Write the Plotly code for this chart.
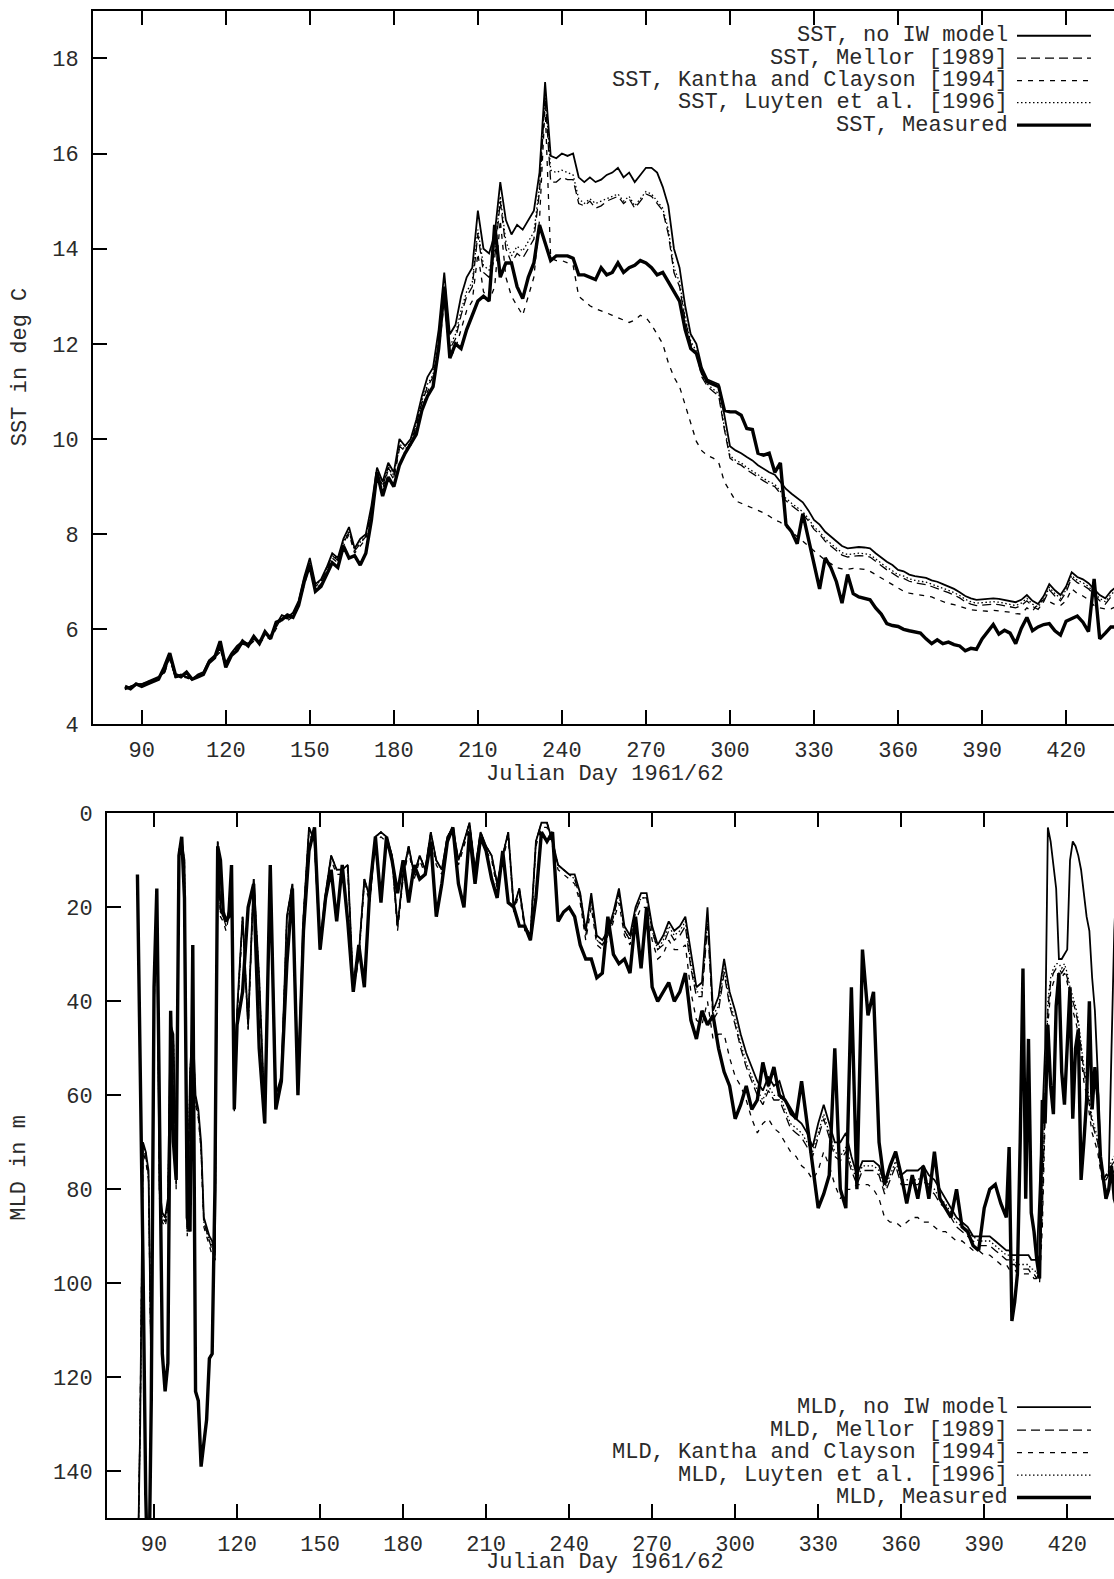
import plotly.graph_objects as go

# ---------------------------------------------------------------- data
# Julian day sampling for the SST series (every second day)
SST_DAY = list(range(84, 439, 2))

SST_NO_IW = [
    4.75, 4.80, 4.85, 4.85, 4.90, 4.95, 5.00, 5.10, 5.45, 5.00,
    5.05, 5.00, 4.95, 5.05, 5.10, 5.35, 5.45, 5.60, 5.30, 5.50,
    5.65, 5.75, 5.70, 5.80, 5.75, 5.90, 5.85, 6.10, 6.30, 6.25,
    6.35, 6.60, 7.10, 7.50, 6.95, 7.05, 7.30, 7.60, 7.50, 7.90,
    8.15, 7.70, 7.90, 8.00, 8.60, 9.40, 9.10, 9.50, 9.30, 10.00,
    9.85, 10.00, 10.40, 10.90, 11.30, 11.50, 12.30, 13.50, 12.20, 12.40,
    13.00, 13.40, 13.60, 14.80, 14.00, 13.90, 14.30, 15.40, 14.60, 14.30,
    14.50, 14.40, 14.60, 14.80, 15.60, 17.50, 15.95, 15.90, 16.00, 15.95,
    16.00, 15.50, 15.40, 15.50, 15.40, 15.45, 15.55, 15.60, 15.70, 15.50,
    15.60, 15.40, 15.55, 15.70, 15.70, 15.60, 15.30, 14.90, 14.00, 13.60,
    12.80, 12.20, 12.00, 11.50, 11.25, 11.20, 11.15, 10.50, 9.85, 9.76,
    9.70, 9.62, 9.55, 9.45, 9.38, 9.30, 9.25, 9.10, 8.95, 8.85,
    8.75, 8.67, 8.50, 8.30, 8.20, 8.05, 7.95, 7.85, 7.75, 7.70,
    7.72, 7.73, 7.72, 7.70, 7.60, 7.50, 7.42, 7.35, 7.25, 7.22,
    7.15, 7.12, 7.10, 7.08, 7.03, 7.00, 6.95, 6.90, 6.85, 6.78,
    6.70, 6.65, 6.62, 6.63, 6.64, 6.65, 6.64, 6.62, 6.60, 6.57,
    6.62, 6.72, 6.60, 6.53, 6.70, 6.95, 6.82, 6.72, 6.90, 7.20,
    7.10, 7.05, 6.97, 6.85, 6.72, 6.65, 6.80, 6.90,
]

SST_MELLOR = [
    4.75, 4.80, 4.83, 4.85, 4.88, 4.93, 4.98, 5.08, 5.40, 5.00,
    5.03, 5.00, 4.95, 5.03, 5.08, 5.30, 5.42, 5.55, 5.28, 5.47,
    5.62, 5.72, 5.68, 5.78, 5.73, 5.87, 5.83, 6.05, 6.25, 6.22,
    6.30, 6.55, 7.00, 7.40, 6.90, 7.00, 7.25, 7.55, 7.45, 7.80,
    8.05, 7.65, 7.80, 7.95, 8.50, 9.25, 9.00, 9.40, 9.20, 9.85,
    9.75, 9.90, 10.30, 10.75, 11.10, 11.30, 12.00, 13.10, 11.90, 12.10,
    12.60, 13.00, 13.20, 14.30, 13.50, 13.40, 13.80, 15.00, 14.00, 13.70,
    13.90, 13.80, 14.00, 14.20, 15.20, 17.20, 15.40, 15.40, 15.50, 15.45,
    15.45, 14.95, 14.90, 15.00, 14.85, 14.90, 15.00, 15.05, 15.10, 14.95,
    15.05, 14.85, 15.00, 15.15, 15.10, 14.95, 14.80, 14.30, 13.50, 13.20,
    12.50, 12.00, 11.80, 11.30, 11.10, 11.00, 10.90, 10.20, 9.60, 9.50,
    9.45, 9.35, 9.28, 9.20, 9.12, 9.05, 9.00, 8.85, 8.70, 8.60,
    8.50, 8.42, 8.28, 8.10, 8.00, 7.85, 7.75, 7.65, 7.56, 7.52,
    7.54, 7.55, 7.54, 7.52, 7.43, 7.33, 7.25, 7.18, 7.10, 7.07,
    7.01, 6.98, 6.96, 6.94, 6.90, 6.86, 6.82, 6.77, 6.72, 6.66,
    6.58, 6.53, 6.50, 6.51, 6.52, 6.53, 6.52, 6.50, 6.48, 6.45,
    6.50, 6.60, 6.48, 6.42, 6.58, 6.83, 6.70, 6.60, 6.78, 7.08,
    6.98, 6.93, 6.85, 6.73, 6.60, 6.53, 6.68, 6.78,
]

SST_KANTHA = [
    4.73, 4.78, 4.82, 4.83, 4.87, 4.92, 4.97, 5.06, 5.38, 4.98,
    5.01, 4.98, 4.93, 5.01, 5.06, 5.28, 5.40, 5.52, 5.25, 5.44,
    5.59, 5.69, 5.65, 5.75, 5.70, 5.84, 5.80, 6.02, 6.22, 6.18,
    6.27, 6.50, 6.95, 7.35, 6.85, 6.95, 7.20, 7.50, 7.40, 7.75,
    8.00, 7.60, 7.75, 7.90, 8.45, 9.20, 8.95, 9.35, 9.15, 9.80,
    9.70, 9.85, 10.25, 10.65, 11.00, 11.20, 11.80, 12.90, 11.70, 11.90,
    12.30, 12.70, 12.90, 13.90, 13.10, 12.90, 13.20, 14.60, 13.40, 13.00,
    12.80, 12.60, 13.00, 13.40, 14.60, 17.00, 13.80, 13.75, 13.75, 13.70,
    13.65, 13.00, 12.90, 12.80, 12.74, 12.70, 12.65, 12.60, 12.55, 12.50,
    12.45, 12.50, 12.60, 12.55, 12.40, 12.20, 12.00, 11.60, 11.30, 11.10,
    10.70, 10.30, 9.95, 9.75, 9.65, 9.60, 9.50, 9.10, 8.90, 8.70,
    8.65, 8.60, 8.55, 8.50, 8.45, 8.38, 8.30, 8.25, 8.15, 8.05,
    7.95, 7.85, 7.75, 7.65, 7.55, 7.45, 7.38, 7.30, 7.27, 7.26,
    7.28, 7.27, 7.26, 7.22, 7.15, 7.08, 7.00, 6.93, 6.86, 6.80,
    6.76, 6.74, 6.72, 6.70, 6.68, 6.63, 6.58, 6.54, 6.52, 6.48,
    6.44, 6.41, 6.40, 6.39, 6.38, 6.40, 6.39, 6.38, 6.36, 6.33,
    6.32, 6.45, 6.38, 6.55, 6.62, 6.58, 6.52, 6.50, 6.60, 6.85,
    6.75, 6.70, 6.62, 6.50, 6.45, 6.43, 6.43, 6.48,
]

SST_LUYTEN = [
    4.75, 4.80, 4.84, 4.85, 4.89, 4.94, 4.99, 5.09, 5.42, 5.00,
    5.04, 5.00, 4.95, 5.04, 5.09, 5.32, 5.43, 5.57, 5.29, 5.48,
    5.63, 5.73, 5.69, 5.79, 5.74, 5.88, 5.84, 6.07, 6.27, 6.23,
    6.32, 6.57, 7.03, 7.43, 6.92, 7.02, 7.27, 7.57, 7.47, 7.83,
    8.08, 7.67, 7.83, 7.97, 8.53, 9.30, 9.03, 9.43, 9.23, 9.90,
    9.78, 9.93, 10.33, 10.80, 11.15, 11.35, 12.05, 13.20, 11.95, 12.20,
    12.70, 13.10, 13.30, 14.40, 13.65, 13.55, 13.95, 15.10, 14.15, 13.85,
    14.05, 13.95, 14.15, 14.35, 15.30, 17.30, 15.65, 15.60, 15.65, 15.60,
    15.55, 15.05, 14.95, 15.05, 14.95, 15.00, 15.05, 15.10, 15.15, 15.00,
    15.10, 14.90, 15.05, 15.20, 15.15, 15.00, 14.85, 14.40, 13.60, 13.30,
    12.55, 12.05, 11.85, 11.35, 11.15, 11.05, 10.95, 10.25, 9.65, 9.55,
    9.50, 9.40, 9.33, 9.25, 9.17, 9.10, 9.05, 8.90, 8.75, 8.65,
    8.55, 8.47, 8.33, 8.15, 8.05, 7.90, 7.80, 7.70, 7.61, 7.57,
    7.59, 7.60, 7.59, 7.57, 7.48, 7.38, 7.30, 7.23, 7.15, 7.12,
    7.06, 7.03, 7.01, 6.99, 6.95, 6.91, 6.87, 6.82, 6.77, 6.71,
    6.63, 6.58, 6.55, 6.56, 6.57, 6.58, 6.57, 6.55, 6.53, 6.50,
    6.55, 6.65, 6.53, 6.47, 6.63, 6.88, 6.75, 6.65, 6.83, 7.13,
    7.03, 6.98, 6.90, 6.78, 6.65, 6.58, 6.73, 6.83,
]

SST_MEASURED = [
    4.80, 4.75, 4.85, 4.80, 4.85, 4.90, 4.95, 5.20, 5.50, 5.05,
    5.00, 5.10, 4.95, 5.00, 5.05, 5.30, 5.40, 5.75, 5.20, 5.45,
    5.55, 5.75, 5.65, 5.85, 5.70, 5.95, 5.80, 6.15, 6.20, 6.30,
    6.25, 6.50, 7.00, 7.35, 6.80, 6.90, 7.15, 7.40, 7.30, 7.75,
    7.50, 7.55, 7.35, 7.60, 8.30, 9.30, 8.80, 9.20, 9.00, 9.45,
    9.70, 9.90, 10.10, 10.60, 10.90, 11.10, 11.90, 13.20, 11.70, 12.00,
    11.90, 12.30, 12.60, 12.90, 13.00, 12.90, 14.50, 13.40, 13.70, 13.70,
    13.20, 12.95, 13.40, 13.70, 14.50, 14.10, 13.75, 13.85, 13.85, 13.85,
    13.80, 13.45, 13.45, 13.40, 13.35, 13.60, 13.45, 13.50, 13.70, 13.50,
    13.60, 13.65, 13.75, 13.70, 13.60, 13.45, 13.50, 13.30, 13.10, 12.90,
    12.30, 11.90, 11.80, 11.40, 11.20, 11.15, 11.10, 10.60, 10.57, 10.57,
    10.50, 10.22, 10.20, 9.70, 9.66, 9.70, 9.30, 9.50, 8.20, 8.05,
    7.80, 8.43, 7.90, 7.45, 6.85, 7.50, 7.30, 7.00, 6.55, 7.15,
    6.75, 6.68, 6.65, 6.62, 6.45, 6.32, 6.12, 6.08, 6.06, 6.00,
    5.97, 5.95, 5.92, 5.80, 5.70, 5.78, 5.70, 5.73, 5.68, 5.65,
    5.55, 5.60, 5.58, 5.80, 5.95, 6.10, 5.90, 5.98, 5.92, 5.70,
    6.02, 6.25, 5.97, 6.05, 6.10, 6.12, 5.97, 5.88, 6.17, 6.22,
    6.28, 6.15, 5.95, 7.06, 5.80, 5.92, 6.05, 6.05,
]

# Julian day sampling for the MLD series: daily where the record is most
# irregular, every second day in between
MLD_DAY = list(range(84, 121)) + list(range(122, 398, 2)) + list(range(398, 439))

MLD_NO_IW = [
    165, 130, 70, 72, 76, 120, 40, 17, 80, 85, 86, 82, 45, 47, 78, 8, 6, 10, 88,
    55, 45, 60, 63, 70, 86, 88, 90, 91, 94, 6, 20, 22, 23, 21, 13, 62, 42,
    22, 45, 14, 35, 64, 12, 60, 56, 22, 15,
    58, 22, 3, 6, 28, 17, 9, 12, 12, 11,
    37, 30, 14, 18, 5, 4, 5, 9, 24, 13,
    7, 13, 9, 12, 4, 10, 12, 5, 3, 10,
    6, 2, 12, 4, 7, 9, 15, 9, 4, 20,
    16, 24, 26, 6, 2, 2, 6, 11, 12, 13,
    13, 17, 25, 17, 26, 27, 25, 21, 16, 24,
    26, 20, 17, 17, 24, 28, 26, 23, 25, 24,
    22, 30, 37, 36, 20, 42, 39, 31, 38, 42,
    47, 51, 54, 57, 59, 56, 58, 57, 61, 64,
    65, 66, 68, 71, 66, 62, 66, 70, 70, 68,
    73, 77, 74, 74, 74, 75, 79, 75, 72, 77,
    76, 76, 76, 75, 77, 78, 80, 82, 84, 86,
    87, 88, 90, 90, 90, 90, 91, 92,
    93, 93, 94, 94, 94, 94, 94, 94, 94, 95,
    95, 95, 80, 65, 50, 3, 6, 11, 16, 31,
    31, 30, 29, 10, 6, 7, 9, 12, 17, 22,
    25, 35, 42, 55, 74, 78, 77, 77, 50, 25,
    12,
]

MLD_MELLOR = [
    165, 128, 71, 73, 77, 120, 41, 17, 81, 86, 87, 84, 46, 48, 79, 8, 6, 11, 89,
    56, 46, 61, 64, 71, 87, 89, 91, 93, 95, 6, 21, 22, 24, 21, 14, 63, 43,
    22, 46, 14, 36, 65, 12, 61, 57, 22, 15,
    59, 22, 3, 6, 29, 17, 9, 12, 12, 11,
    38, 30, 14, 18, 5, 4, 5, 9, 24, 13,
    7, 13, 9, 12, 4, 10, 12, 5, 3, 10,
    6, 2, 12, 4, 7, 9, 15, 9, 4, 20,
    16, 24, 26, 6, 2, 2, 6, 11, 12, 13,
    14, 18, 26, 18, 27, 28, 26, 22, 17, 25,
    27, 21, 18, 18, 25, 29, 28, 25, 27, 26,
    24, 33, 39, 39, 24, 44, 42, 34, 41, 45,
    50, 54, 57, 60, 62, 59, 61, 61, 64, 67,
    68, 69, 71, 73, 69, 65, 69, 73, 74, 72,
    76, 79, 76, 76, 76, 77, 81, 78, 75, 79,
    79, 79, 79, 78, 80, 81, 83, 84, 86, 88,
    89, 90, 91, 92, 92, 92, 93, 94,
    95, 95, 96, 96, 97, 97, 97, 97, 97, 98,
    98, 99, 97, 85, 60, 42, 36, 34, 33, 33,
    34, 33, 35, 38, 40, 42, 45, 50, 55, 58,
    62, 66, 68, 70, 75, 78, 78, 77, 75, 74,
    74,
]

MLD_KANTHA = [
    165, 128, 72, 74, 78, 121, 42, 18, 82, 87, 88, 85, 47, 49, 80, 9, 7, 12, 90,
    57, 47, 62, 65, 72, 88, 90, 92, 94, 96, 7, 22, 23, 25, 22, 15, 64, 44,
    23, 46, 15, 36, 66, 13, 61, 58, 23, 16,
    59, 23, 4, 7, 29, 18, 10, 13, 13, 12,
    38, 31, 15, 19, 6, 5, 6, 10, 25, 14,
    8, 14, 10, 13, 5, 11, 13, 6, 4, 11,
    7, 3, 13, 5, 8, 10, 16, 10, 5, 21,
    17, 25, 27, 7, 3, 3, 7, 12, 13, 14,
    15, 19, 27, 20, 28, 29, 27, 23, 19, 26,
    28, 23, 20, 20, 27, 31, 30, 27, 29, 29,
    28, 38, 44, 45, 40, 48, 47, 47, 52, 56,
    58, 61, 65, 68, 66, 65, 67, 68, 70, 72,
    73, 75, 76, 78, 76, 72, 75, 79, 82, 80,
    80, 79, 79, 79, 80, 82, 86, 87, 87, 88,
    87, 86, 86, 87, 87, 88, 89, 89, 90, 91,
    91, 92, 93, 93, 94, 94, 95, 96,
    96, 97, 97, 97, 98, 98, 98, 98, 98, 98,
    99, 99, 100, 88, 65, 45, 38, 36, 35, 34,
    35, 34, 36, 39, 42, 44, 47, 52, 57, 60,
    64, 68, 70, 72, 76, 79, 80, 79, 77, 76,
    76,
]

MLD_LUYTEN = [
    165, 129, 71, 72, 77, 120, 40, 17, 81, 86, 87, 83, 46, 48, 79, 8, 6, 10, 89,
    55, 46, 61, 64, 71, 87, 89, 91, 92, 95, 6, 21, 22, 23, 21, 14, 63, 43,
    22, 45, 14, 35, 65, 12, 60, 57, 22, 15,
    58, 22, 3, 6, 28, 17, 9, 12, 12, 11,
    37, 30, 14, 18, 5, 4, 5, 9, 24, 13,
    7, 13, 9, 12, 4, 10, 12, 5, 3, 10,
    6, 2, 12, 4, 7, 9, 15, 9, 4, 20,
    16, 24, 26, 6, 2, 2, 6, 11, 12, 13,
    14, 17, 25, 18, 27, 28, 26, 22, 17, 25,
    27, 21, 18, 18, 25, 29, 27, 24, 26, 25,
    23, 32, 38, 38, 22, 43, 41, 33, 40, 44,
    49, 53, 56, 59, 61, 58, 60, 60, 63, 66,
    67, 68, 70, 72, 68, 64, 68, 72, 73, 71,
    75, 78, 75, 75, 75, 76, 80, 77, 74, 78,
    78, 78, 78, 77, 79, 80, 82, 83, 85, 87,
    88, 89, 90, 91, 91, 91, 92, 93,
    94, 94, 95, 95, 96, 96, 96, 96, 96, 97,
    97, 98, 96, 82, 58, 40, 35, 33, 32, 32,
    33, 32, 34, 37, 39, 41, 44, 49, 54, 57,
    61, 65, 67, 69, 74, 77, 77, 76, 74, 73,
    73,
]

MLD_MEASURED = [
    13, 50, 95, 145, 170, 125, 37, 16, 70, 115, 123, 117, 42, 70, 78, 9, 5, 18, 86,
    89, 28, 123, 125, 139, 134, 129, 116, 115, 80, 7, 10, 21, 23, 22, 11, 63, 45,
    38, 20, 15, 50, 66, 11, 63, 57, 32, 16,
    60, 25, 8, 3, 29, 18, 12, 23, 11, 23,
    38, 28, 37, 16, 5, 19, 5, 10, 17, 10,
    19, 11, 14, 13, 6, 22, 15, 6, 3, 15,
    20, 4, 15, 5, 8, 14, 18, 8, 19, 20,
    24, 24, 27, 18, 4, 6, 4, 23, 21, 20,
    22, 28, 31, 31, 35, 34, 22, 30, 32, 31,
    34, 22, 33, 20, 37, 40, 38, 36, 40, 38,
    34, 44, 48, 42, 45, 43, 50, 55, 58, 65,
    62, 58, 63, 61, 53, 58, 54, 60, 61, 63,
    65, 57, 66, 76, 84, 81, 77, 50, 80, 84,
    37, 80, 29, 43, 38, 70, 79, 75, 72, 77,
    83, 77, 82, 75, 82, 72, 82, 84, 86, 80,
    88, 89, 92, 93, 84, 80, 79, 83,
    86, 71, 108, 104, 98, 70, 33, 82, 48, 85,
    89, 95, 99, 61, 66, 45, 58, 64, 41, 34,
    55, 62, 50, 37, 65, 50, 46, 78, 70, 61,
    40, 63, 54, 60, 73, 78, 82, 80, 75, 82,
    84,
]

SST_TICKS = [4, 6, 8, 10, 12, 14, 16, 18]
MLD_TICKS = [0, 20, 40, 60, 80, 100, 120, 140]
DAY_TICKS = [90, 120, 150, 180, 210, 240, 270, 300, 330, 360, 390, 420]

SST_NAMES = ["SST, no IW model", "SST, Mellor [1989]",
             "SST, Kantha and Clayson [1994]", "SST, Luyten et al. [1996]",
             "SST, Measured"]
MLD_NAMES = ["MLD, no IW model", "MLD, Mellor [1989]",
             "MLD, Kantha and Clayson [1994]", "MLD, Luyten et al. [1996]",
             "MLD, Measured"]

# ---------------------------------------------------------------- styles
FONT = "Liberation Mono, Courier New, monospace"
INK = "#2a2a2a"
STYLES = [
    dict(color="black", width=1.8, dash="solid"),
    dict(color="black", width=1.3, dash="9px,5px"),
    dict(color="black", width=1.3, dash="5px,6px"),
    dict(color="black", width=1.3, dash="1.5px,2.5px"),
    dict(color="black", width=3.4, dash="solid"),
]

W, H = 1114, 1579
# vertical layout rows are given in page pixels from the top edge; the page
# places the figure 8.2 px down and at 98.6 % of its nominal height
ROW_OFFSET, ROW_SCALE = 8.2, 0.986


def px_x(p):
    return p / W


def px_y(p):
    return 1 - ((p - ROW_OFFSET) / ROW_SCALE) / H


fig = go.Figure()

sst_series = [SST_NO_IW, SST_MELLOR, SST_KANTHA, SST_LUYTEN, SST_MEASURED]
mld_series = [MLD_NO_IW, MLD_MELLOR, MLD_KANTHA, MLD_LUYTEN, MLD_MEASURED]
order = [3, 2, 1, 0, 4]

for i in order:
    fig.add_trace(go.Scatter(x=SST_DAY, y=sst_series[i], mode="lines",
                             line=STYLES[i], name=SST_NAMES[i],
                             xaxis="x", yaxis="y", showlegend=False,
                             hoverinfo="skip"))
for i in order:
    fig.add_trace(go.Scatter(x=MLD_DAY, y=mld_series[i], mode="lines",
                             line=STYLES[i], name=MLD_NAMES[i],
                             xaxis="x2", yaxis="y2", showlegend=False,
                             hoverinfo="skip"))

tick_font = dict(family=FONT, size=22, color=INK)
common_x = dict(tickmode="array", tickvals=DAY_TICKS, ticks="inside",
                ticklen=14, tickwidth=2, tickcolor="black", showline=True,
                linewidth=2, linecolor="black", mirror="ticks",
                showgrid=False, zeroline=False, tickfont=tick_font,
                ticklabelstandoff=4)
common_y = dict(tickmode="array", ticks="inside", ticklen=14, tickwidth=2,
                tickcolor="black", showline=True, linewidth=2,
                linecolor="black", mirror=False, showgrid=False,
                zeroline=False, tickfont=tick_font, ticklabelstandoff=8)
right_y = dict(tickmode="array", ticks="inside", ticklen=14, tickwidth=2,
               tickcolor="black", showline=False, showgrid=False,
               zeroline=False, showticklabels=False, side="right")

top_dom = [px_y(724), px_y(9)]
bot_dom = [px_y(1519.3), px_y(813)]

fig.update_layout(
    width=W, height=H,
    margin=dict(l=0, r=0, t=0, b=0),
    paper_bgcolor="white", plot_bgcolor="white",
    showlegend=False,
    xaxis=dict(common_x, domain=[px_x(93), 1], range=[72.6, 437.1],
               anchor="y"),
    yaxis=dict(common_y, domain=top_dom, range=[4, 19], tickvals=SST_TICKS,
               anchor="x"),
    yaxis3=dict(right_y, overlaying="y", anchor="x", range=[4, 19],
                tickvals=SST_TICKS),
    xaxis2=dict(common_x, domain=[px_x(107), 1], range=[73.0, 436.9],
                anchor="y2"),
    yaxis2=dict(common_y, domain=bot_dom, range=[150, 0], tickvals=MLD_TICKS,
                anchor="x2"),
    yaxis4=dict(right_y, overlaying="y2", anchor="x2", range=[150, 0],
                tickvals=MLD_TICKS),
)

# axis titles
title_font = dict(family=FONT, size=22, color=INK)
annotations = [
    dict(text="Julian Day 1961/62", x=px_x(605), y=px_y(774),
         xref="paper", yref="paper", showarrow=False, font=title_font,
         xanchor="center", yanchor="middle"),
    dict(text="Julian Day 1961/62", x=px_x(605), y=px_y(1564),
         xref="paper", yref="paper", showarrow=False, font=title_font,
         xanchor="center", yanchor="middle"),
    dict(text="SST in deg C", x=px_x(20), y=px_y(366), textangle=-90,
         xref="paper", yref="paper", showarrow=False, font=title_font,
         xanchor="center", yanchor="middle"),
    dict(text="MLD in m", x=px_x(20), y=px_y(1168), textangle=-90,
         xref="paper", yref="paper", showarrow=False, font=title_font,
         xanchor="center", yanchor="middle"),
]

# key entries: text to the left of a line sample
shapes = []
key_rows_top = [34, 56.5, 79, 101, 123.5]
key_rows_bot = [1408, 1431, 1453.5, 1476, 1498.5]
for names, rows in ((SST_NAMES, key_rows_top), (MLD_NAMES, key_rows_bot)):
    for i, (name, row) in enumerate(zip(names, rows)):
        annotations.append(dict(text=name, x=px_x(1010), y=px_y(row),
                                xref="paper", yref="paper", showarrow=False,
                                font=title_font, xanchor="right",
                                yanchor="middle"))
        shapes.append(dict(type="line", xref="paper", yref="paper",
                           x0=px_x(1017), x1=px_x(1091),
                           y0=px_y(row), y1=px_y(row), line=STYLES[i]))

fig.update_layout(annotations=annotations, shapes=shapes)

fig.write_html("out.html", config={"displayModeBar": False})
